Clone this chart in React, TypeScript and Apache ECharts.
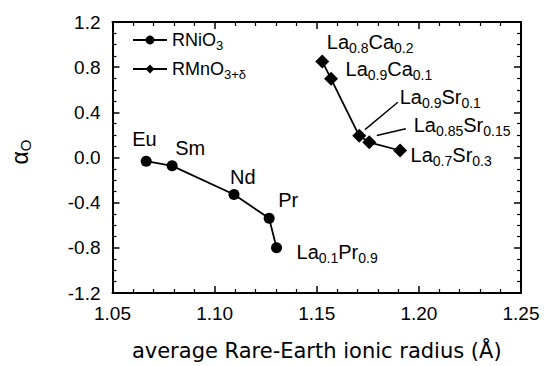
import React, { useEffect, useRef } from "react";
import * as echarts from "echarts";

const FONT = '"Liberation Sans", Arial, Helvetica, sans-serif';
const TITLE_FONT = '"DejaVu Sans", "Liberation Sans", Arial, sans-serif';

// RNiO3 series
const niNames = ["Eu", "Sm", "Nd", "Pr", "La0.1Pr0.9"];
const niRadius = [1.0665, 1.0792, 1.1095, 1.1267, 1.1303];
const niAlpha = [-0.033, -0.074, -0.328, -0.539, -0.8];

// RMnO3+δ series
const mnNames = ["La0.8Ca0.2", "La0.9Ca0.1", "La0.9Sr0.1", "La0.85Sr0.15", "La0.7Sr0.3"];
const mnRadius = [1.1527, 1.157, 1.1708, 1.1757, 1.1908];
const mnAlpha = [0.851, 0.697, 0.192, 0.134, 0.062];

// leader lines (data coordinates)
const leaders = [
  [[1.1736, 0.247], [1.1897, 0.489]],
  [[1.1794, 0.195], [1.1936, 0.255]],
];

const xTicks = { min: 1.05, max: 1.25, interval: 0.05 };
const yTicks = { min: -1.2, max: 1.2, interval: 0.4 };

// label rich text
const richLabel: Record<string, string> = {
  Eu: "{m|Eu}",
  Sm: "{m|Sm}",
  Nd: "{m|Nd}",
  Pr: "{m|Pr}",
  "La0.1Pr0.9": "{m|La}{s|0.1}{m|Pr}{s|0.9}",
  "La0.8Ca0.2": "{m|La}{s|0.8}{m|Ca}{s|0.2}",
  "La0.9Ca0.1": "{m|La}{s|0.9}{m|Ca}{s|0.1}",
  "La0.9Sr0.1": "{m|La}{s|0.9}{m|Sr}{s|0.1}",
  "La0.85Sr0.15": "{m|La}{s|0.85}{m|Sr}{s|0.15}",
  "La0.7Sr0.3": "{m|La}{s|0.7}{m|Sr}{s|0.3}",
};

// label offsets (px)
const labelOffset: Record<string, [number, number]> = {
  Eu: [-24.5, -22.5],
  Sm: [-7.5, -17.5],
  Nd: [-14.5, -18],
  Pr: [-1.5, -18],
  "La0.1Pr0.9": [9.5, 4],
  "La0.8Ca0.2": [-7.5, -19],
  "La0.9Ca0.1": [2.5, -10],
  "La0.9Sr0.1": [28.5, -39],
  "La0.85Sr0.15": [32.5, -17],
  "La0.7Sr0.3": [-1.5, 5],
};

const rich = {
  m: { fontSize: 20, fontFamily: FONT, color: "#000" },
  s: { fontSize: 14, fontFamily: FONT, color: "#000", padding: [12, 0, 0, 0] },
};

function buildData(names: string[], xs: number[], ys: number[]) {
  return names.map((n, i) => ({
    name: n,
    value: [xs[i], ys[i]],
    label: {
      show: true,
      position: "right",
      distance: 5,
      offset: labelOffset[n],
      formatter: richLabel[n],
      rich,
    },
  }));
}

export default function App() {
  const ref = useRef<HTMLDivElement>(null);
  useEffect(() => {
    if (!ref.current) return;
    const chart = echarts.init(ref.current, null, { renderer: "svg" });
    const axisCommon = {
      type: "value",
      axisLine: { show: true, onZero: false, lineStyle: { color: "#000", width: 2 } },
      axisTick: { show: true, inside: true, length: 7, lineStyle: { color: "#000", width: 1.5 } },
      minorTick: { show: true, length: 4, lineStyle: { color: "#000", width: 1.2 } },
      splitLine: { show: false },
    };
    chart.setOption({
      animation: false,
      backgroundColor: "#fff",
      textStyle: { fontFamily: FONT, color: "#000" },
      grid: { left: 110, right: 28, top: 22, bottom: 67, containLabel: false },
      legend: {
        data: ["RNiO3", "RMnO3+δ"],
        orient: "vertical",
        left: 127,
        top: 26,
        itemWidth: 34,
        itemHeight: 11,
        itemGap: 8,
        formatter: (name: string) =>
          name === "RNiO3" ? "{m|RNiO}{s|3}" : "{m|RMnO}{s|3+δ}",
        textStyle: {
          rich: {
            m: { fontSize: 18, fontFamily: FONT, color: "#000" },
            s: { fontSize: 13, fontFamily: FONT, color: "#000", padding: [11, 0, 0, 0] },
          },
        },
      },
      xAxis: [
        {
          ...axisCommon,
          position: "bottom",
          min: xTicks.min,
          max: xTicks.max,
          interval: xTicks.interval,
          minorTick: { ...axisCommon.minorTick, splitNumber: 5 },
          axisLabel: {
            margin: 11,
            fontSize: 19,
            fontFamily: FONT,
            color: "#000",
            formatter: (v: number) => v.toFixed(2),
          },
          name: "average Rare-Earth ionic radius (Å)",
          nameLocation: "middle",
          nameGap: 47,
          nameTextStyle: { fontSize: 21, fontFamily: TITLE_FONT, color: "#000" },
        },
        {
          ...axisCommon,
          position: "top",
          min: xTicks.min,
          max: xTicks.max,
          interval: xTicks.interval,
          minorTick: { ...axisCommon.minorTick, splitNumber: 5 },
          axisLabel: { show: false },
        },
      ],
      yAxis: [
        {
          ...axisCommon,
          position: "left",
          min: yTicks.min,
          max: yTicks.max,
          interval: yTicks.interval,
          minorTick: { ...axisCommon.minorTick, splitNumber: 4 },
          axisLabel: {
            margin: 12,
            fontSize: 19,
            fontFamily: FONT,
            color: "#000",
            formatter: (v: number) => v.toFixed(1),
          },
          name: "{a|α}{o|O}",
          nameLocation: "middle",
          nameRotate: 90,
          nameGap: 80,
          nameTextStyle: {
            padding: [0, 0, 0, 11],
            rich: {
              a: { fontSize: 23, fontFamily: FONT, color: "#000" },
              o: { fontSize: 15, fontFamily: FONT, color: "#000", padding: [11, 0, 0, 0] },
            },
          },
        },
        {
          ...axisCommon,
          position: "right",
          min: yTicks.min,
          max: yTicks.max,
          interval: yTicks.interval,
          minorTick: { ...axisCommon.minorTick, splitNumber: 4 },
          axisLabel: { show: false },
        },
      ],
      series: [
        {
          name: "RNiO3",
          type: "line",
          symbol: "circle",
          symbolSize: 11,
          lineStyle: { color: "#000", width: 1.8 },
          itemStyle: { color: "#000" },
          data: buildData(niNames, niRadius, niAlpha),
        },
        {
          name: "RMnO3+δ",
          type: "line",
          symbol: "diamond",
          symbolSize: 14,
          lineStyle: { color: "#000", width: 1.8 },
          itemStyle: { color: "#000" },
          data: buildData(mnNames, mnRadius, mnAlpha),
          markLine: {
            silent: true,
            symbol: "none",
            label: { show: false },
            lineStyle: { color: "#000", width: 1.4, type: "solid" },
            data: leaders.map(([a, b]) => [{ coord: a }, { coord: b }]),
          },
        },
      ],
    });
    return () => chart.dispose();
  }, []);
  return (
    <div
      ref={ref}
      style={{ position: "fixed", left: 0, top: 0, width: 549, height: 366, background: "#fff" }}
    />
  );
}
